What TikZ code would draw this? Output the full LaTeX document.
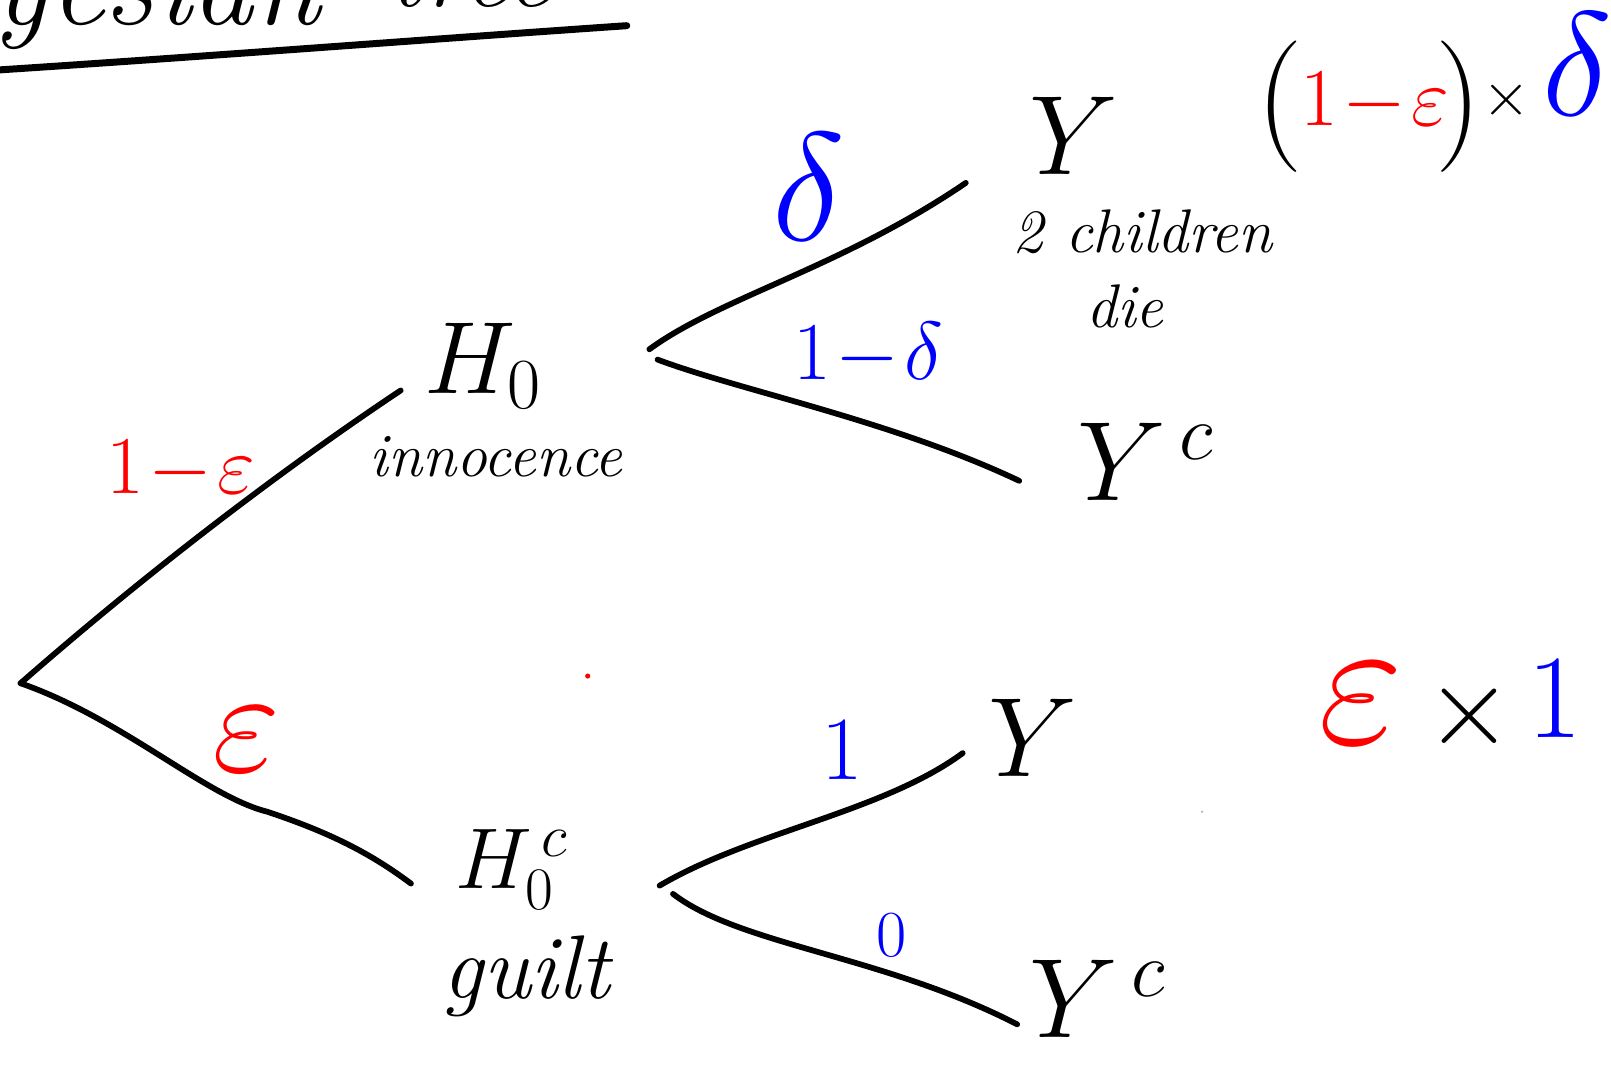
\RequirePackage{fix-cm}
\documentclass[tikz,border=0pt]{standalone}
\usepackage{amsmath}
\definecolor{inkred}{RGB}{255,0,0}
\definecolor{inkblue}{RGB}{0,0,255}
\begin{document}
\begin{tikzpicture}[x=0.5pt,y=-0.5pt,
  branch/.style={line width=2.8pt, line cap=round, line join=round},
  lab/.style={inner sep=0pt, outer sep=0pt},
  big/.style={lab, font=\fontsize{55}{60}\selectfont},
  small/.style={lab, font=\fontsize{30}{36}\selectfont\itshape},
  redlab/.style={lab, text=inkred, font=\fontsize{40}{46}\selectfont},
  bluelab/.style={lab, text=inkblue, font=\fontsize{40}{46}\selectfont}]
\useasboundingbox (0,0) rectangle (1568,1038);
\clip (0,0) rectangle (1568,1038);

% title (cut off at top)
\node[lab, anchor=base east, font=\fontsize{60}{70}\selectfont\itshape] (title1) at (312,24) {Bayesian};
\node[lab, anchor=base west, font=\fontsize{52}{60}\selectfont\itshape] (title2) at (378,6) {tree};
\coordinate (ulA) at (0,68);
\coordinate (ulB) at (610,25);
\draw[line width=3.4pt, line cap=round] (ulA) .. controls (200,55) and (420,38) .. (ulB);

% nodes
\coordinate (root) at (20,665);
\node[lab, font=\fontsize{50}{56}\selectfont] (h0) at (470,356) {$H_0$};
\node[small] (inno) at (483,445) {innocence};
\node[lab, font=\fontsize{42}{48}\selectfont] (h0c) at (498,846) {$H_0^{\,c}$};
\node[lab, font=\fontsize{44}{50}\selectfont\itshape] (guilt) at (512,950) {guilt};

\node[big] (y1) at (1045,132) {$Y$};
\node[small] (kids) at (1112,226) {2 children};
\node[small] (die) at (1095,298) {die};
\node[big] (yc1) at (1115,450) {$Y^{\,c}$};
\node[big] (y2) at (1005,718) {$Y$};
\node[big] (yc2) at (1068,972) {$Y^{\,c}$};

% branch end points
\coordinate (h0in) at (390,380);
\coordinate (h0cin) at (400,860);
\coordinate (h0outA) at (632,340);
\coordinate (h0outB) at (640,350);
\coordinate (y1in) at (940,178);
\coordinate (yc1in) at (992,468);
\coordinate (h0coutA) at (642,862);
\coordinate (h0coutB) at (655,870);
\coordinate (y2in) at (937,733);
\coordinate (yc2in) at (990,997);

% branches
\draw[branch] (root) .. controls (140,560) and (270,460) .. (h0in);
\draw[branch] (root) .. controls (120,700) and (200,775) .. (260,790) .. controls (320,810) and (360,830) .. (h0cin);
\draw[branch] (h0outA) .. controls (700,290) and (820,260) .. (y1in);
\draw[branch] (h0outB) .. controls (720,380) and (870,410) .. (yc1in);
\draw[branch] (h0coutA) .. controls (730,810) and (860,790) .. (y2in);
\draw[branch] (h0coutB) .. controls (720,920) and (860,930) .. (yc2in);

% branch probabilities
\node[redlab] (p1) at (176,458) {$1\!-\!\varepsilon$};
\node[redlab, font=\fontsize{72}{78}\selectfont] (p2) at (240,720) {$\varepsilon$};
\node[bluelab, font=\fontsize{75}{80}\selectfont] (p3) at (787,182) {$\delta$};
\node[bluelab] (p4) at (845,345) {$1\!-\!\delta$};
\node[bluelab, font=\fontsize{44}{50}\selectfont] (p5) at (820,730) {$1$};
\node[bluelab, font=\fontsize{32}{36}\selectfont] (p6) at (868,910) {$0$};

% product (1-eps) x delta
\node[lab, font=\fontsize{64}{70}\selectfont] (lp) at (1246,104) {(};
\node[redlab, font=\fontsize{40}{46}\selectfont] (pr1) at (1338,100) {$1\!-\!\varepsilon$};
\node[lab, font=\fontsize{64}{70}\selectfont] (rp) at (1420,104) {)};
\node[lab, font=\fontsize{30}{36}\selectfont] (tm1) at (1466,97) {$\times$};
\node[bluelab, font=\fontsize{72}{78}\selectfont] (pr2) at (1535,62) {$\delta$};

% product eps x 1
\node[redlab, font=\fontsize{90}{96}\selectfont] (pr3) at (1325,685) {$\varepsilon$};
\node[lab, font=\fontsize{55}{60}\selectfont] (tm2) at (1430,697) {$\times$};
\node[bluelab, font=\fontsize{58}{64}\selectfont] (pr4) at (1513,680) {$1$};

% stray dots
\fill[inkred] (572,658) circle (2.5);
\fill[gray!60] (1170,790) circle (1.2);
\end{tikzpicture}
\end{document}
